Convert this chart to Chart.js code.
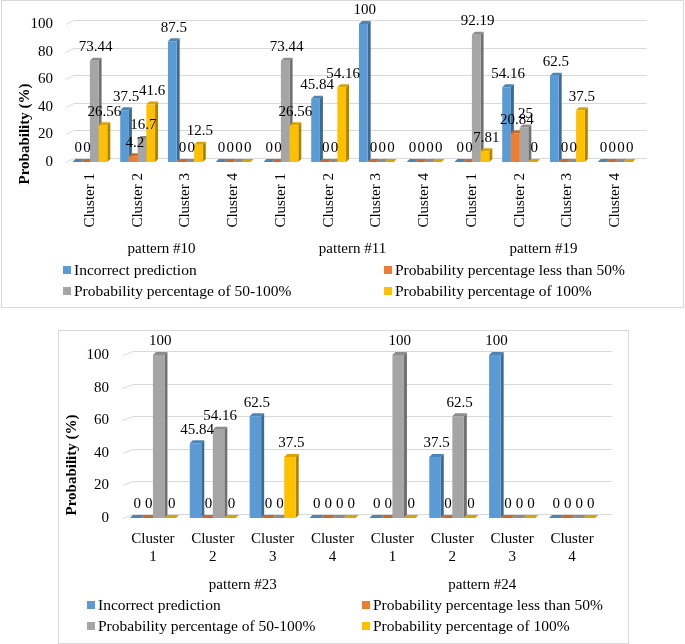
<!DOCTYPE html>
<html><head><meta charset="utf-8">
<script src="https://cdn.jsdelivr.net/npm/chart.js@4.4.1/dist/chart.umd.min.js"></script>
<style>
html,body{margin:0;padding:0;background:#fff;width:685px;height:644px;overflow:hidden;}
.box{position:absolute;border:1px solid #d9d9d9;box-sizing:border-box;}
canvas{position:absolute;left:0;top:0;}
</style></head><body>
<div class="box" style="left:1px;top:0px;width:683px;height:308px"></div>
<div class="box" style="left:58px;top:330px;width:571px;height:314px"></div>
<div style="position:absolute;left:0;top:0;width:685px;height:310px"><canvas id="c1" width="685" height="310"></canvas></div>
<div style="position:absolute;left:0;top:310px;width:685px;height:334px"><canvas id="c2" width="685" height="334"></canvas></div>
<script>
const FONT = "'Liberation Serif','Times New Roman',serif";
const seriesNames = ['Incorrect prediction','Probability percentage less than 50%','Probability percentage of 50-100%','Probability percentage of 100%'];
const seriesColors = ['#5B9BD5','#ED7D31','#A5A5A5','#FFC000'];
const yAxisTitle = 'Probability (%)';

// Top chart
const topClusters = ['Cluster 1','Cluster 2','Cluster 3','Cluster 4','Cluster 1','Cluster 2','Cluster 3','Cluster 4','Cluster 1','Cluster 2','Cluster 3','Cluster 4'];
const topPatterns = ['pattern #10','pattern #11','pattern #19'];
const topIncorrect = [0,37.5,87.5,0, 0,45.84,100,0, 0,54.16,62.5,0];
const topLess50    = [0,4.2,0,0,     0,0,0,0,        0,20.84,0,0];
const top50to100   = [73.44,16.7,0,0, 73.44,0,0,0,   92.19,25,0,0];
const top100       = [26.56,41.6,12.5,0, 26.56,54.16,0,0, 7.81,0,37.5,0];

// Bottom chart
const bottomClusters = [['Cluster','1'],['Cluster','2'],['Cluster','3'],['Cluster','4'],['Cluster','1'],['Cluster','2'],['Cluster','3'],['Cluster','4']];
const bottomPatterns = ['pattern #23','pattern #24'];
const bottomIncorrect = [0,45.84,62.5,0, 0,37.5,100,0];
const bottomLess50    = [0,0,0,0,        0,0,0,0];
const bottom50to100   = [100,54.16,0,0,  100,62.5,0,0];
const bottom100       = [0,0,37.5,0,     0,0,0,0];

function shade(hex, f){
  const n = parseInt(hex.slice(1),16);
  const r = Math.round((n>>16)*f), g = Math.round(((n>>8)&255)*f), b = Math.round((n&255)*f);
  return `rgb(${r},${g},${b})`;
}

const bar3d = {
  id:'bar3d',
  beforeDatasetsDraw(chart, args, o){
    const ctx = chart.ctx, a = chart.chartArea, ys = chart.scales.y;
    ctx.save();
    ctx.strokeStyle = '#d9d9d9'; ctx.lineWidth = 1;
    ys.ticks.forEach(t=>{
      const py = Math.round(ys.getPixelForValue(t.value)) + 0.5;
      ctx.beginPath(); ctx.moveTo(a.left, py); ctx.lineTo(a.left + o.wallDx, py - o.wallDy);
      ctx.lineTo(a.right + o.wallDx, py - o.wallDy); ctx.stroke();
    });
    const d = o.depth;
    chart.data.datasets.forEach((ds,di)=>{
      const meta = chart.getDatasetMeta(di);
      meta.data.forEach(el=>{
        const p = el.getProps(['x','y','base','width'], true);
        const l = p.x - p.width/2, r = p.x + p.width/2;
        ctx.fillStyle = shade(ds.backgroundColor, 0.68);
        ctx.beginPath(); ctx.moveTo(r,p.y); ctx.lineTo(r+d,p.y-d); ctx.lineTo(r+d,p.base-d); ctx.lineTo(r,p.base); ctx.closePath(); ctx.fill();
        ctx.fillStyle = shade(ds.backgroundColor, 0.85);
        ctx.beginPath(); ctx.moveTo(l,p.y); ctx.lineTo(l+d,p.y-d); ctx.lineTo(r+d,p.y-d); ctx.lineTo(r,p.y); ctx.closePath(); ctx.fill();
      });
    });
    ctx.restore();
  },
  afterDatasetsDraw(chart, args, o){
    const ctx = chart.ctx, d = o.depth;
    ctx.save();
    ctx.font = `${o.labelSize}px ${FONT}`; ctx.fillStyle = '#000';
    ctx.textAlign = 'center'; ctx.textBaseline = 'bottom';
    chart.data.datasets.forEach((ds,di)=>{
      chart.getDatasetMeta(di).data.forEach((el,i)=>{
        const p = el.getProps(['x','y'], true);
        ctx.fillText(String(ds.data[i]), p.x + d/2, p.y - d - 3);
      });
    });
    ctx.restore();
  },
  afterDraw(chart, args, o){
    const ctx = chart.ctx;
    ctx.save();
    ctx.font = `${o.legendSize}px ${FONT}`; ctx.textBaseline = 'middle'; ctx.textAlign = 'left';
    chart.data.datasets.forEach((ds,i)=>{
      const x = o.legendX[i%2], y = o.legendY[Math.floor(i/2)];
      ctx.fillStyle = ds.backgroundColor; ctx.fillRect(x, y-4, 8, 8);
      ctx.fillStyle = '#000'; ctx.fillText(ds.label, x + 11, y + 1);
    });
    ctx.font = `bold 15px ${FONT}`; ctx.fillStyle = '#000';
    ctx.translate(o.titleX, o.titleY); ctx.rotate(-Math.PI/2);
    ctx.textAlign = 'center'; ctx.textBaseline = 'middle';
    ctx.fillText(yAxisTitle, 0, 0);
    ctx.restore();
  }
};

function makeChart(id, labels, patterns, series, cfg){
  const font = {family: FONT, size: 15};
  return new Chart(document.getElementById(id), {
    type:'bar',
    data:{
      labels: labels,
      datasets: series.map((s,i)=>({label: seriesNames[i], data: s, backgroundColor: seriesColors[i], borderWidth:0,
        categoryPercentage: cfg.catPct, barPercentage: 1.0}))
    },
    plugins:[bar3d],
    options:{
      responsive:false, animation:false, events:[],
      layout:{padding:{top:cfg.top, right:cfg.right, bottom:cfg.bottom, left:0}},
      plugins:{legend:{display:false}, tooltip:{enabled:false}, title:{display:false},
        bar3d:cfg.plug},
      scales:{
        y:{min:0, max:100, ticks:{stepSize:20, font, color:'#000', padding:cfg.yPad},
           grid:{display:false, drawTicks:false}, border:{display:false},
           afterFit(s){ s.width = cfg.left; }},
        x:{type:'category', position:'bottom', weight:0,
           grid:{display:false, drawTicks:false}, border:{display:false},
           ticks:{font, color:'#000', padding:cfg.xPad, autoSkip:false, minRotation:cfg.rot, maxRotation:cfg.rot},
           afterFit(s){ s.height = cfg.xH; }},
        x2:{type:'category', position:'bottom', weight:1, labels: patterns, offset:true,
           grid:{display:false, drawTicks:false}, border:{display:false},
           ticks:{font, color:'#000', padding:cfg.x2Pad, autoSkip:false, maxRotation:0},
           afterFit(s){ s.height = cfg.x2H; }}
      }
    }
  });
}

makeChart('c1', topClusters, topPatterns, [topIncorrect, topLess50, top50to100, top100], {
  catPct:0.73, top:24, right:46, bottom:50, left:66, yPad:13, xPad:11, rot:90, xH:72, x2Pad:6, x2H:26,
  plug:{depth:3, wallDx:8, wallDy:4, labelSize:15, legendSize:15.5, legendX:[63,384], legendY:[270,291], titleX:25, titleY:134}
});
makeChart('c2', bottomClusters, bottomPatterns, [bottomIncorrect, bottomLess50, bottom50to100, bottom100], {
  catPct:0.77, top:45, right:83, bottom:48, left:123, yPad:14, xPad:12, rot:0, xH:52, x2Pad:6, x2H:26,
  plug:{depth:3, wallDx:10, wallDy:4, labelSize:15, legendSize:15.5, legendX:[87,362], legendY:[295,316], titleX:72, titleY:155}
});
</script>
</body></html>
